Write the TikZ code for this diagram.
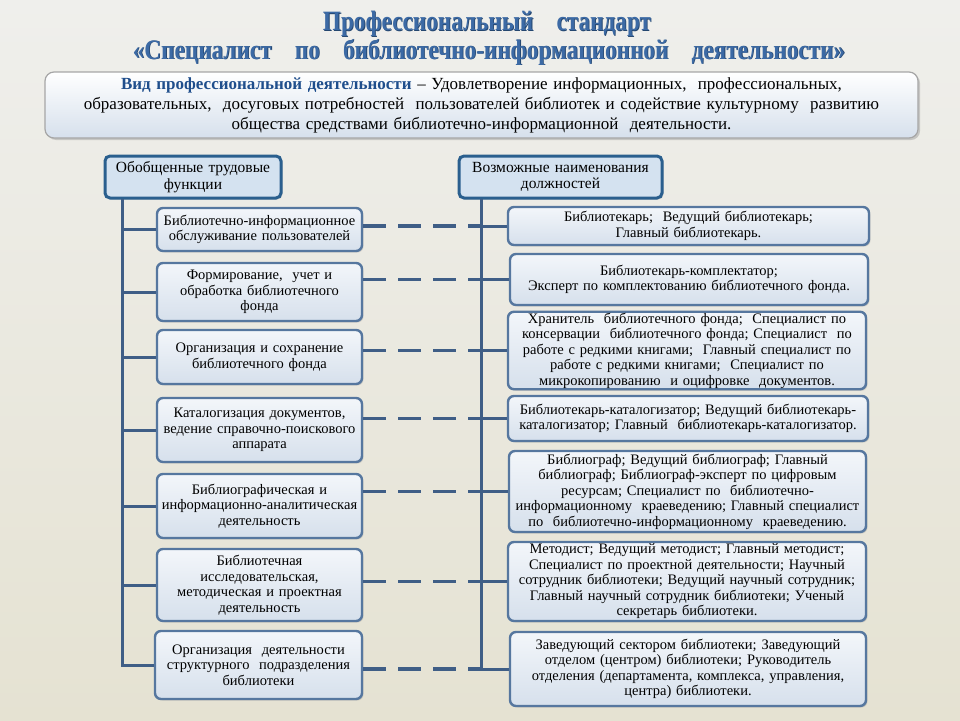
\documentclass[tikz,border=0pt]{standalone}
\usepackage{fontspec}
\setmainfont{Liberation Serif}
\usetikzlibrary{shadows}
\definecolor{bgtop}{HTML}{EFEFEC}
\definecolor{bgbot}{HTML}{E5E2D2}
\definecolor{boxline}{HTML}{56779F}
\definecolor{hdrline}{HTML}{2A5F8E}
\definecolor{hdrfill}{HTML}{D4E2F0}
\definecolor{trunkc}{HTML}{3F5E86}
\definecolor{titleblue}{HTML}{3C6AA5}
\definecolor{titleshade}{HTML}{24466F}
\definecolor{vidblue}{HTML}{1F4E8C}
\definecolor{boxtop}{HTML}{F3F6FA}
\definecolor{boxbot}{HTML}{D6E0EC}
\begin{document}
\begin{tikzpicture}[x=1pt,y=-1pt,
  fbox/.style={draw=boxline, line width=2.4pt, rounded corners=6pt,
    top color=boxtop, bottom color=boxbot, align=center, inner sep=1pt,
    font=\fontsize{14.5}{15.5}\selectfont,
    drop shadow={shadow xshift=1.5pt, shadow yshift=-1.5pt, opacity=0.25}},
  hbox/.style={draw=hdrline, line width=3pt, rounded corners=5pt,
    fill=hdrfill, align=center, inner sep=1pt,
    font=\fontsize{15.5}{16.5}\selectfont,
    drop shadow={shadow xshift=1.5pt, shadow yshift=-1.5pt, opacity=0.25}},
  topbox/.style={draw=gray!70, line width=1.2pt, rounded corners=9pt,
    top color=white, bottom color=boxbot, align=center, inner sep=1pt,
    font=\fontsize{17}{20}\selectfont,
    drop shadow={shadow xshift=2pt, shadow yshift=-2pt, opacity=0.35}},
  trunk/.style={draw=trunkc, line width=3pt},
  dashline/.style={draw=trunkc, line width=3.5pt, dash pattern=on 23pt off 12pt},
  ttl/.style={font=\fontsize{28}{32}\bfseries\selectfont}
]
\useasboundingbox (0,0) rectangle (960,720);
\shade[top color=bgtop, bottom color=bgbot] (0,0) rectangle (960,720);

% title
\node[ttl, text=titleshade] at (487.8,24.8) {\scalebox{0.83}[1]{Профессиональный\quad стандарт}};
\node[ttl, text=titleblue] (t1) at (487,24) {\scalebox{0.83}[1]{Профессиональный\quad стандарт}};
\node[ttl, text=titleshade] at (489.8,52.8) {\scalebox{0.83}[1]{«Специалист\quad по\quad библиотечно-информационной\quad деятельности»}};
\node[ttl, text=titleblue] (t2) at (489,52) {\scalebox{0.83}[1]{«Специалист\quad по\quad библиотечно-информационной\quad деятельности»}};

% top box
\node[topbox, minimum width=873pt, minimum height=66pt, text width=868pt] (top) at (481.5,105)
 {{\bfseries\color{vidblue}Вид профессиональной деятельности} – Удовлетворение информационных,\ \ профессиональных,\\
  образовательных,\ \ досуговых потребностей\ \ пользователей библиотек и содействие культурному\ \ развитию\\
  общества средствами библиотечно-информационной\ \ деятельности.};

% headers
\node[hbox, minimum width=176pt, minimum height=42pt, text width=172pt] (LH) at (193,177)
 {Обобщенные трудовые\\функции};
\node[hbox, minimum width=203pt, minimum height=42pt, text width=199pt] (RH) at (560.5,177)
 {Возможные наименования\\должностей};

% left boxes
\node[fbox, minimum width=205pt, minimum height=43pt, text width=201pt] (L1) at (259.5,229.5)
 {Библиотечно-информационное\\обслуживание пользователей};
\node[fbox, minimum width=205pt, minimum height=58pt, text width=201pt] (L2) at (259.5,292)
 {Формирование,\ \ учет и\\обработка библиотечного\\фонда};
\node[fbox, minimum width=205pt, minimum height=54pt, text width=201pt] (L3) at (259.5,357)
 {Организация и сохранение\\библиотечного фонда};
\node[fbox, minimum width=205pt, minimum height=64pt, text width=201pt] (L4) at (259.5,430)
 {Каталогизация документов,\\ведение справочно-поискового\\аппарата};
\node[fbox, minimum width=205pt, minimum height=64pt, text width=201pt] (L5) at (259.5,506)
 {Библиографическая и\\информационно-аналитическая\\деятельность};
\node[fbox, minimum width=205pt, minimum height=72pt, text width=201pt] (L6) at (259.5,585)
 {Библиотечная\\исследовательская,\\методическая и проектная\\деятельность};
\node[fbox, minimum width=207pt, minimum height=68pt, text width=203pt] (L7) at (258.5,665)
 {Организация\ \ деятельности\\структурного\ \ подразделения\\библиотеки};

% right boxes
\node[fbox, minimum width=361pt, minimum height=38pt, text width=357pt] (R1) at (688.5,226)
 {Библиотекарь;\ \ Ведущий библиотекарь;\\Главный библиотекарь.};
\node[fbox, minimum width=358pt, minimum height=51pt, text width=354pt] (R2) at (689,279.5)
 {Библиотекарь-комплектатор;\\Эксперт по комплектованию библиотечного фонда.};
\node[fbox, minimum width=358pt, minimum height=75pt, text width=354pt] (R3) at (687,350.5)
 {Хранитель\ \ библиотечного фонда;\ \ Специалист по\\консервации\ \ библиотечного фонда;\ Специалист\ \ по\\работе с редкими книгами;\ \ Главный специалист по\\работе с редкими книгами;\ \ Специалист по\\микрокопированию\ \ и оцифровке\ \ документов.};
\node[fbox, minimum width=360pt, minimum height=45pt, text width=356pt] (R4) at (688,418.5)
 {Библиотекарь-каталогизатор;\ Ведущий библиотекарь-\\каталогизатор;\ Главный\ \ библиотекарь-каталогизатор.};
\node[fbox, minimum width=357pt, minimum height=81pt, text width=353pt] (R5) at (687.5,491.5)
 {Библиограф;\ Ведущий библиограф;\ Главный\\библиограф;\ Библиограф-эксперт\ по цифровым\\ресурсам;\ Специалист по\ \ библиотечно-\\информационному\ \ краеведению;\ Главный специалист\\по\ \ библиотечно-информационному\ \ краеведению.};
\node[fbox, minimum width=358pt, minimum height=79pt, text width=354pt] (R6) at (687,581.5)
 {Методист;\ Ведущий методист;\ Главный методист;\\Специалист по проектной деятельности;\ Научный\\сотрудник библиотеки;\ Ведущий научный\ сотрудник;\\Главный научный\ сотрудник библиотеки;\ Ученый\\секретарь библиотеки.};
\node[fbox, minimum width=356pt, minimum height=74pt, text width=352pt] (R7) at (688,669)
 {Заведующий сектором библиотеки;\ Заведующий\\отделом (центром) библиотеки;\ Руководитель\\отделения (департамента, комплекса, управления,\\центра) библиотеки.};

% trunks
\coordinate (lt) at (122,198.5);
\coordinate (rt) at (481,198.5);
\draw[trunk] (lt) |- (L7.west);
\draw[trunk] (rt) |- (R7.west);
\foreach \i in {1,...,6} {
  \draw[trunk] (lt |- L\i.west) -- (L\i.west);
}
\foreach \i in {1,...,6} {
  \draw[trunk] (rt |- R\i.west) -- (R\i.west);
}
\foreach \i in {1,...,7} {
  \draw[dashline] (L\i.east |- R\i.west) -- (rt |- R\i.west);
}
\end{tikzpicture}
\end{document}
